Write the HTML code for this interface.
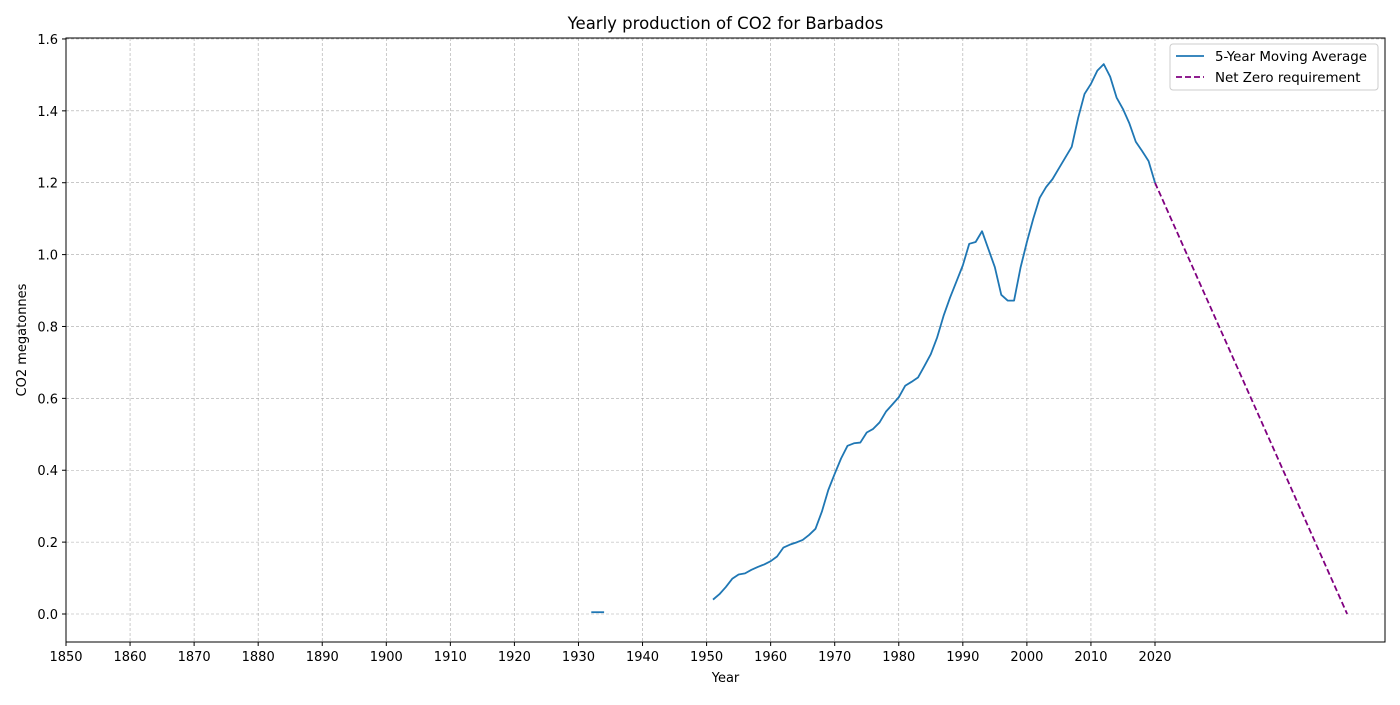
<!DOCTYPE html>
<html><head><meta charset="utf-8"><style>
body{margin:0;background:#fff;font-family:"Liberation Sans","DejaVu Sans",sans-serif;}
svg text{font-family:"DejaVu Sans","Liberation Sans",sans-serif;fill:#000;}
</style></head><body>
<svg id="chart" width="1400" height="700" xmlns="http://www.w3.org/2000/svg">
<text x="725.5" y="29" font-size="16.5" text-anchor="middle">Yearly production of CO2 for Barbados</text>
<g id="grid"></g><g id="series"></g><g id="axes"></g>
<text x="725.5" y="682" font-size="13" text-anchor="middle">Year</text>
<text transform="translate(26,340) rotate(-90)" font-size="13" text-anchor="middle">CO2 megatonnes</text>
<g>
<rect x="1170" y="44" width="208" height="46" rx="3" fill="#fff" fill-opacity="0.8" stroke="#ccc"/>
<line x1="1176" y1="56" x2="1204" y2="56" stroke="#1f77b4" stroke-width="1.8"/>
<text x="1215" y="61" font-size="13.4">5-Year Moving Average</text>
<line x1="1176" y1="77" x2="1204" y2="77" stroke="purple" stroke-width="1.8" stroke-dasharray="6,3"/>
<text x="1215" y="82" font-size="13.4">Net Zero requirement</text>
</g>
</svg>
<script>
const earlyYears=[1932,1933,1934];
const earlyValues=[0.005,0.005,0.005];
const years=[1951,1952,1953,1954,1955,1956,1957,1958,1959,1960,1961,1962,1963,1964,1965,1966,1967,1968,1969,1970,1971,1972,1973,1974,1975,1976,1977,1978,1979,1980,1981,1982,1983,1984,1985,1986,1987,1988,1989,1990,1991,1992,1993,1994,1995,1996,1997,1998,1999,2000,2001,2002,2003,2004,2005,2006,2007,2008,2009,2010,2011,2012,2013,2014,2015,2016,2017,2018,2019,2020];
const values=[0.04,0.055,0.075,0.098,0.11,0.113,0.123,0.131,0.138,0.147,0.16,0.185,0.193,0.199,0.206,0.22,0.237,0.285,0.345,0.39,0.433,0.468,0.475,0.477,0.505,0.515,0.533,0.563,0.583,0.603,0.635,0.646,0.658,0.69,0.723,0.77,0.83,0.88,0.925,0.97,1.03,1.035,1.065,1.015,0.965,0.888,0.872,0.872,0.963,1.035,1.1,1.158,1.188,1.21,1.24,1.27,1.3,1.38,1.447,1.475,1.512,1.53,1.495,1.437,1.405,1.365,1.314,1.288,1.26,1.2];
const netZeroYears=[2020,2050];
const netZeroValues=[1.2,0];
const xTicks=[1850,1860,1870,1880,1890,1900,1910,1920,1930,1940,1950,1960,1970,1980,1990,2000,2010,2020];
const yTicks=[0.0,0.2,0.4,0.6,0.8,1.0,1.2,1.4,1.6];
const L=66,R=1385,T=38,B=642;
const x=v=>66+(v-1850)*(1155-66)/170;
const y=v=>614-v*359.4;
const NS="http://www.w3.org/2000/svg";
function mk(tag,attrs,parent){const e=document.createElementNS(NS,tag);for(const k in attrs)e.setAttribute(k,attrs[k]);document.getElementById(parent).appendChild(e);return e;}
xTicks.forEach(t=>{
 const g=mk('line',{x1:x(t),x2:x(t),y1:T,y2:B,stroke:'#a8a8a8','stroke-width':0.6,'stroke-dasharray':'3,2'},'grid');
 
 
 mk('line',{x1:x(t),x2:x(t),y1:B,y2:B+4,stroke:'#000'},'axes');
 const tx=mk('text',{x:x(t),y:B+19,'font-size':13,'text-anchor':'middle'},'axes');
 tx.textContent=t;
 
 
});
yTicks.forEach(t=>{
 const g=mk('line',{x1:L,x2:R,y1:y(t),y2:y(t),stroke:'#a8a8a8','stroke-width':0.6,'stroke-dasharray':'3,2'},'grid');
 
 
 mk('line',{x1:L-4,x2:L,y1:y(t),y2:y(t),stroke:'#000'},'axes');
 const tx=mk('text',{x:L-8,y:y(t)+5,'font-size':13,'text-anchor':'end'},'axes');
 tx.textContent=t.toFixed(1);
 
 
});
const frame=mk('rect',{x:L,y:T,width:R-L,height:B-T,fill:'none',stroke:'#000','stroke-width':1},'axes');


const pts=(xs,vs)=>xs.map((v,i)=>x(v)+','+y(vs[i])).join(' ');
const e1=mk('polyline',{points:pts(earlyYears,earlyValues),fill:'none',stroke:'#1f77b4','stroke-width':1.8},'series');


const m=mk('polyline',{points:pts(years,values),fill:'none',stroke:'#1f77b4','stroke-width':1.8,'stroke-linejoin':'round'},'series');


const n=mk('polyline',{points:pts(netZeroYears,netZeroValues),fill:'none',stroke:'purple','stroke-width':1.8,'stroke-dasharray':'6,3'},'series');


</script>
</body></html>
